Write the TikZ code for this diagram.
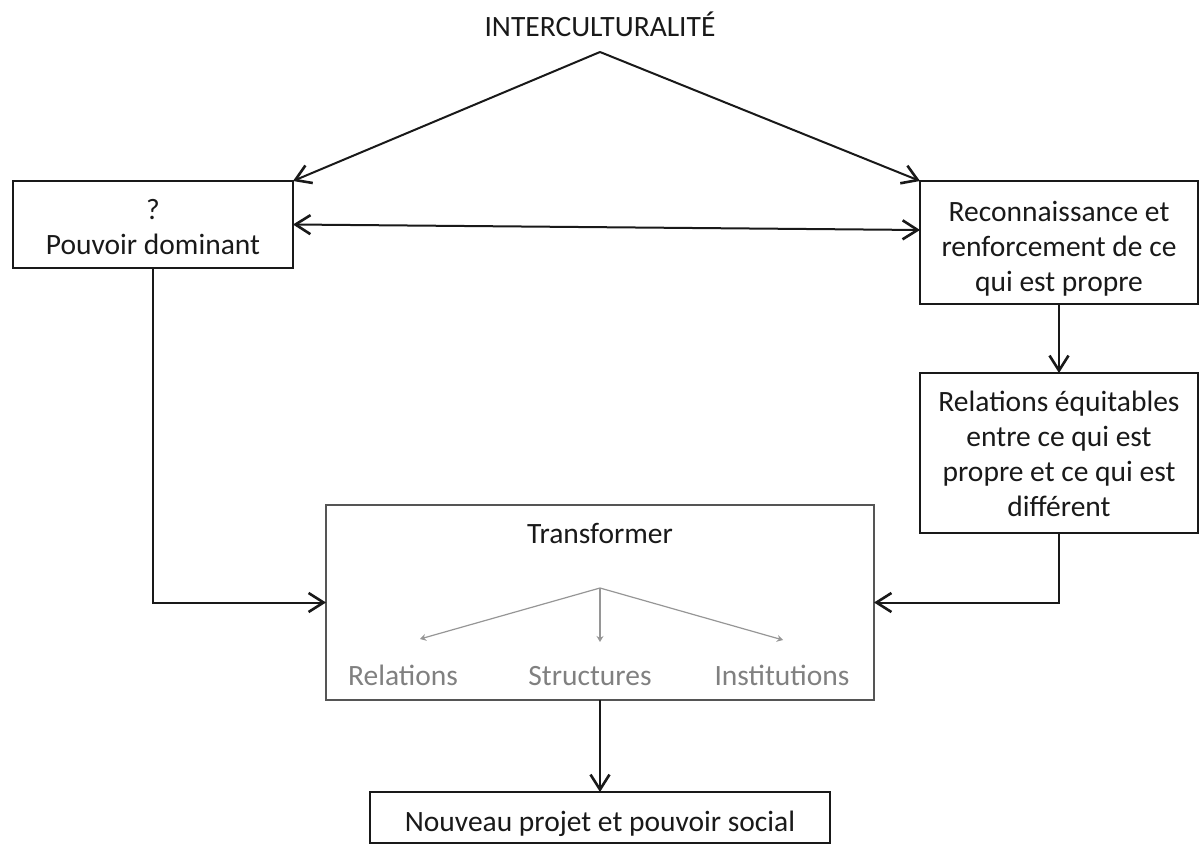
\documentclass[tikz,border=0pt]{standalone}
\usepackage{fontspec}
\setmainfont{Carlito}
\usetikzlibrary{arrows.meta,calc}
\definecolor{lblgray}{RGB}{128,128,128}
\definecolor{arrgray}{RGB}{150,150,150}
\definecolor{tbox}{RGB}{85,85,85}
\begin{document}
\begin{tikzpicture}[x=0.5pt,y=-0.5pt,
  every node/.style={font=\fontsize{14.75pt}{17.5pt}\selectfont},
  box/.style={draw=black!90, line width=1pt, inner sep=0pt, outer sep=0pt},
  tbox/.style={draw=tbox, line width=0.8pt, inner sep=0pt, outer sep=0pt},
  txt/.style={align=center, inner sep=0pt, text=black!90},
  lbl/.style={inner sep=0pt, anchor=base, text=lblgray},
  conn/.style={line width=1pt, draw=black!90},
  bk/.tip={Straight Barb[length=7.5pt,width=9.5pt,line width=1.3pt]},
  tip/.style={-bk},
  gconn/.style={line width=0.6pt, draw=arrgray, -{Stealth[length=3pt,width=3.5pt]}}]
\useasboundingbox (0,0) rectangle (1199,844);

% title
\node[txt, anchor=base] (title) at (600,37) {INTERCULTURALITÉ};
\coordinate (apex) at (600,52);

% boxes
\node[box, minimum width=140pt, minimum height=43.5pt] (left) at (153,224.5) {};
\node[txt] (lefttxt) at ([yshift=-1.5pt]left.center) {?\\Pouvoir dominant};

\node[box, minimum width=139pt, minimum height=61.5pt] (right1) at (1059,242.5) {};
\node[txt] (r1txt) at ([yshift=-3.25pt]right1.center) {Reconnaissance et\\renforcement de ce\\qui est propre};

\node[box, minimum width=139pt, minimum height=80pt] (right2) at (1059,453) {};
\node[txt] (r2txt) at ([yshift=-0.6pt]right2.center) {Relations équitables\\entre ce qui est\\propre et ce qui est\\différent};

\node[tbox, minimum width=274pt, minimum height=97.5pt] (trans) at (600,602.5) {};
\node[txt, anchor=base] (transtxt) at (600,543) {Transformer};
\node[lbl] (rel) at (403,685) {Relations};
\node[lbl] (str) at (590,685) {Structures};
\node[lbl] (ins) at (782,685) {Institutions};

\node[box, minimum width=230pt, minimum height=25.5pt] (nouv) at (600,817.5) {};
\node[txt, anchor=base] (nouvtxt) at (600,831) {Nouveau projet et pouvoir social};

% inner gray arrows
\coordinate (fork) at (600,588);
\coordinate (trel) at (420,639);
\coordinate (tstr) at (600,642);
\coordinate (tins) at (783,640);
\draw[gconn] (fork) -- (trel);
\draw[gconn] (fork) -- (tstr);
\draw[gconn] (fork) -- (tins);

% connectors
\draw[conn,tip] (apex) -- (left.north east);
\draw[conn,tip] (apex) -- (right1.north west);
\draw[conn,bk-bk] (left.east) -- ([yshift=6.25pt]right1.west);
\draw[conn,tip] (right1.south) -- (right2.north);
\draw[conn,tip] (right2.south) |- (trans.east);
\draw[conn,tip] (left.south) |- (trans.west);
\draw[conn,tip] (trans.south) -- (nouv.north);
\end{tikzpicture}
\end{document}
